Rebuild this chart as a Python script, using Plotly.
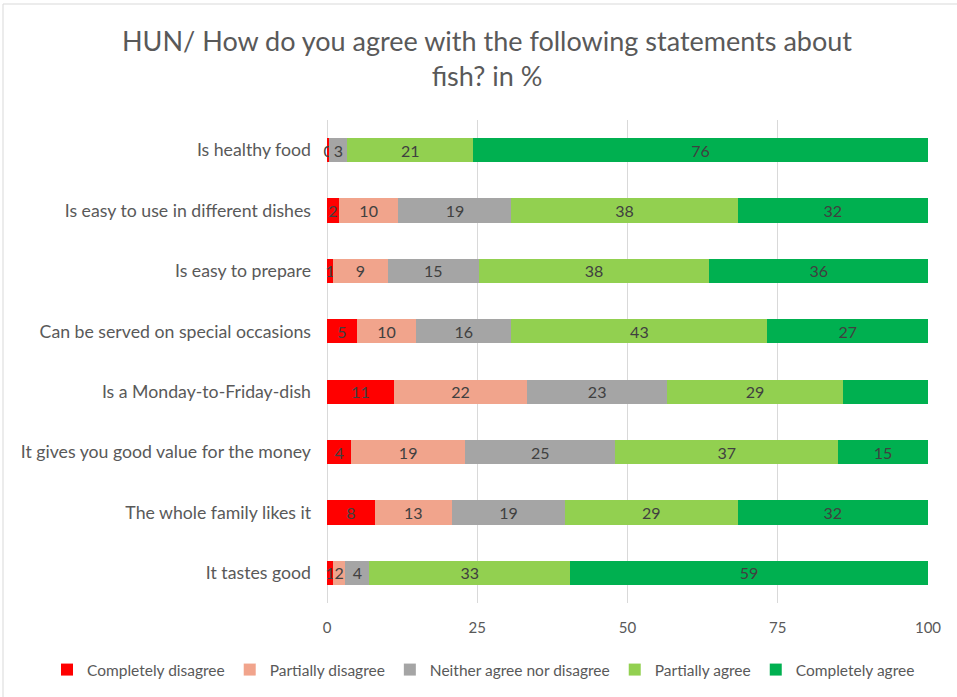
import plotly.graph_objects as go

# Statements, listed top to bottom
statements = [
    "Is healthy food",
    "Is easy to use in different dishes",
    "Is easy to prepare",
    "Can be served on special occasions",
    "Is a Monday-to-Friday-dish",
    "It gives you good value for the money",
    "The whole family likes it",
    "It tastes good",
]

completely_disagree = [0.4, 2, 1, 5, 11, 4, 8, 1]
partially_disagree = [0, 10, 9, 10, 22, 19, 13, 2]
neither = [3, 19, 15, 16, 23, 25, 19, 4]
partially_agree = [21, 38, 38, 43, 29, 37, 29, 33]
completely_agree = [76, 32, 36, 27, 14, 15, 32, 59]

series = [
    ("Completely disagree", completely_disagree, "#FF0000"),
    ("Partially disagree", partially_disagree, "#F1A48C"),
    ("Neither agree nor disagree", neither, "#A5A5A5"),
    ("Partially agree", partially_agree, "#92D050"),
    ("Completely agree", completely_agree, "#00B050"),
]

FONT = "Lato, Calibri, sans-serif"
W, H = 957, 697
L, R, T, B = 327, 29, 120, 94
pw, ph = W - L - R, H - T - B

fig = go.Figure()
for i, (name, vals, color) in enumerate(series):
    first = i == 0
    fig.add_trace(go.Bar(
        y=statements,
        x=vals,
        name=name,
        orientation="h",
        marker=dict(color=color, line=dict(width=0)),
        text=[f"{v:.0f}" if v > 0 else "" for v in vals],
        textposition="inside",
        insidetextanchor="middle",
        textangle=0,
        constraintext="none",
        # let labels of the thin first segment spill past the axis edge
        cliponaxis=not first,
        textfont=dict(family=FONT, size=16, color="#404040"),
        hoverinfo="x+y+name",
    ))

# light outer frame around the whole chart
fig.add_shape(
    type="rect", xref="paper", yref="paper",
    x0=(3 - L) / pw, x1=(W + 5 - L) / pw,
    y0=(T + ph - (H + 5)) / ph, y1=(T + ph - 4) / ph,
    line=dict(color="#D9D9D9", width=1), fillcolor="rgba(0,0,0,0)",
    layer="below",
)

fig.update_layout(
    width=W, height=H,
    barmode="stack",
    barnorm="percent",
    bargap=0.6,
    paper_bgcolor="white",
    plot_bgcolor="white",
    margin=dict(l=L, r=R, t=T, b=B, autoexpand=False),
    font=dict(family=FONT, color="#595959"),
    title=dict(
        text="HUN/ How do you agree with the following statements about<br>fish? in %",
        x=487 / W, xanchor="center",
        y=1 - 51 / H, yanchor="middle",
        font=dict(family=FONT, size=27, color="#595959"),
    ),
    uniformtext=dict(minsize=16, mode="show"),
    legend=dict(
        orientation="h",
        x=(47 - L) / pw, xanchor="left",
        y=-(670 - (T + ph)) / ph, yanchor="middle",
        font=dict(family=FONT, size=15.5, color="#595959"),
        traceorder="normal",
    ),
    xaxis=dict(
        range=[0, 100],
        tickvals=[0, 25, 50, 75, 100],
        showgrid=True,
        gridcolor="#D9D9D9",
        zeroline=True,
        zerolinecolor="#D9D9D9",
        zerolinewidth=1,
        tickfont=dict(family=FONT, size=15, color="#595959"),
        ticks="",
        ticklabelstandoff=14,
        fixedrange=True,
    ),
    yaxis=dict(
        autorange="reversed",
        tickfont=dict(family=FONT, size=17.7, color="#595959"),
        ticks="",
        showgrid=False,
        ticklabelstandoff=15,
    ),
)

fig.write_html("out.html")
